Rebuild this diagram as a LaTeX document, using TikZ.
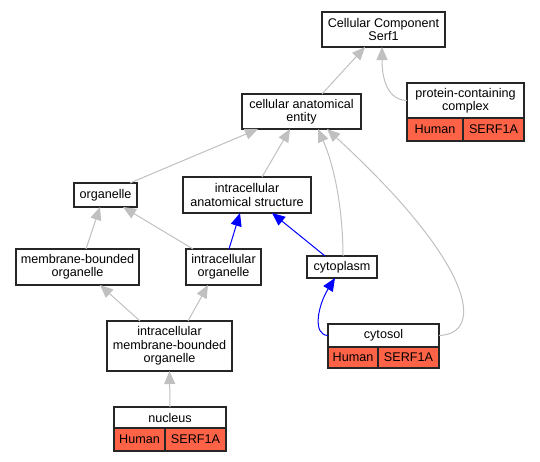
\documentclass[tikz,border=0pt]{standalone}
\usepackage{fontspec}
\setmainfont{Liberation Sans}
\usetikzlibrary{arrows.meta,positioning}

\definecolor{speciescell}{HTML}{FF6347}
\definecolor{isagray}{HTML}{C0C0C0}

\tikzset{
		term/.style   = {shape=rectangle, draw=black!85, fill=white,
				line width=1.1pt, align=center, inner sep=2pt, outer sep=0pt,
				font=\fontsize{12.6}{13.4}\selectfont},
		cell/.style   = {term, fill=speciescell, minimum height=23pt},
		isa/.style    = {draw=isagray, line width=1pt,
				-{Triangle[length=13pt,width=11pt]}},
		partof/.style = {isa, draw=blue, -{Triangle[length=13pt,width=11pt,fill=blue]}}
	}

\begin{document}
\begin{tikzpicture}[x=1pt, y=-1pt]
	\useasboundingbox (0,0) rectangle (540,461);

	% terms
	\node[term, minimum width=123pt, minimum height=35pt] (cc) at (383.5,29.5) {Cellular Component\\Serf1};
	\node[term, minimum width=117pt, minimum height=35pt] (pcc) at (465.5,100.5) {protein-containing\\complex};
	\node[term, minimum width=119pt, minimum height=35pt] (cae) at (301.5,111.5) {cellular anatomical\\entity};
	\node[term, minimum width=63pt, minimum height=24pt] (org) at (105.5,195) {organelle};
	\node[term, minimum width=128pt, minimum height=36pt] (ias) at (247,195) {intracellular\\anatomical structure};
	\node[term, minimum width=123pt, minimum height=36pt] (mbo) at (77.5,267) {membrane-bounded\\organelle};
	\node[term, minimum width=75pt, minimum height=36pt] (io) at (223.5,267) {intracellular\\organelle};
	\node[term, minimum width=70pt, minimum height=22pt] (cyto) at (342,267) {cytoplasm};
	\node[term, minimum width=111pt, minimum height=23pt] (cytosol) at (383.5,335.5) {cytosol};
	\node[term, minimum width=125pt, minimum height=50pt] (imbo) at (169.5,346) {intracellular\\membrane-bounded\\organelle};
	\node[term, minimum width=112pt, minimum height=21pt] (nucleus) at (170,417.5) {nucleus};

	% species rows
	\node[cell, minimum width=56pt, anchor=north west] (pcchuman) at (pcc.south west) {Human};
	\node[cell, minimum width=61pt, anchor=north west] (pccgene) at (pcchuman.north east) {SERF1A};
	\node[cell, minimum width=50pt, minimum height=21pt, anchor=north west] (cytosolhuman) at (cytosol.south west) {Human};
	\node[cell, minimum width=61pt, minimum height=21pt, anchor=north west] (cytosolgene) at (cytosolhuman.north east) {SERF1A};
	\node[cell, minimum width=51pt, anchor=north west] (nucleushuman) at (nucleus.south west) {Human};
	\node[cell, minimum width=61pt, anchor=north west] (nucleusgene) at (nucleushuman.north east) {SERF1A};

	% is_a
	\draw[isa] ([xshift=20.5pt]cae.north) -- ([xshift=-18.5pt]cc.south);
	\draw[isa] (pcc.west) .. controls (388,100) and (382,80) .. ([xshift=-1.5pt]cc.south);
	\draw[isa] ([xshift=24.5pt]org.north) -- ([xshift=-43.5pt]cae.south);
	\draw[isa] ([xshift=15pt]ias.north) -- ([xshift=-11.5pt]cae.south);
	\draw[isa] ([xshift=1pt]cyto.north) .. controls (343,215) and (336,170) .. ([xshift=16.5pt]cae.south);
	\draw[isa] (cytosol.east) .. controls (485,334) and (475,265) .. ([xshift=25.5pt]cae.south);
	\draw[isa] ([xshift=8.5pt]mbo.north) -- ([xshift=-5.5pt]org.south);
	\draw[isa] ([xshift=-30.5pt]io.north) -- ([xshift=17.5pt]org.south);
	\draw[isa] ([xshift=-29.5pt]imbo.north) -- ([xshift=22.5pt]mbo.south);
	\draw[isa] ([xshift=18.5pt]imbo.north) -- ([xshift=-15.5pt]io.south);
	\draw[isa] (nucleus.north) -- (imbo.south);

	% part_of
	\draw[partof] ([xshift=5.5pt]io.north) -- ([xshift=-7pt]ias.south);
	\draw[partof] ([xshift=-17pt]cyto.north) -- ([xshift=25pt]ias.south);
	\draw[partof] (cytosol.west) .. controls (312,335) and (318,305) .. ([xshift=-7pt]cyto.south);
\end{tikzpicture}
\end{document}
